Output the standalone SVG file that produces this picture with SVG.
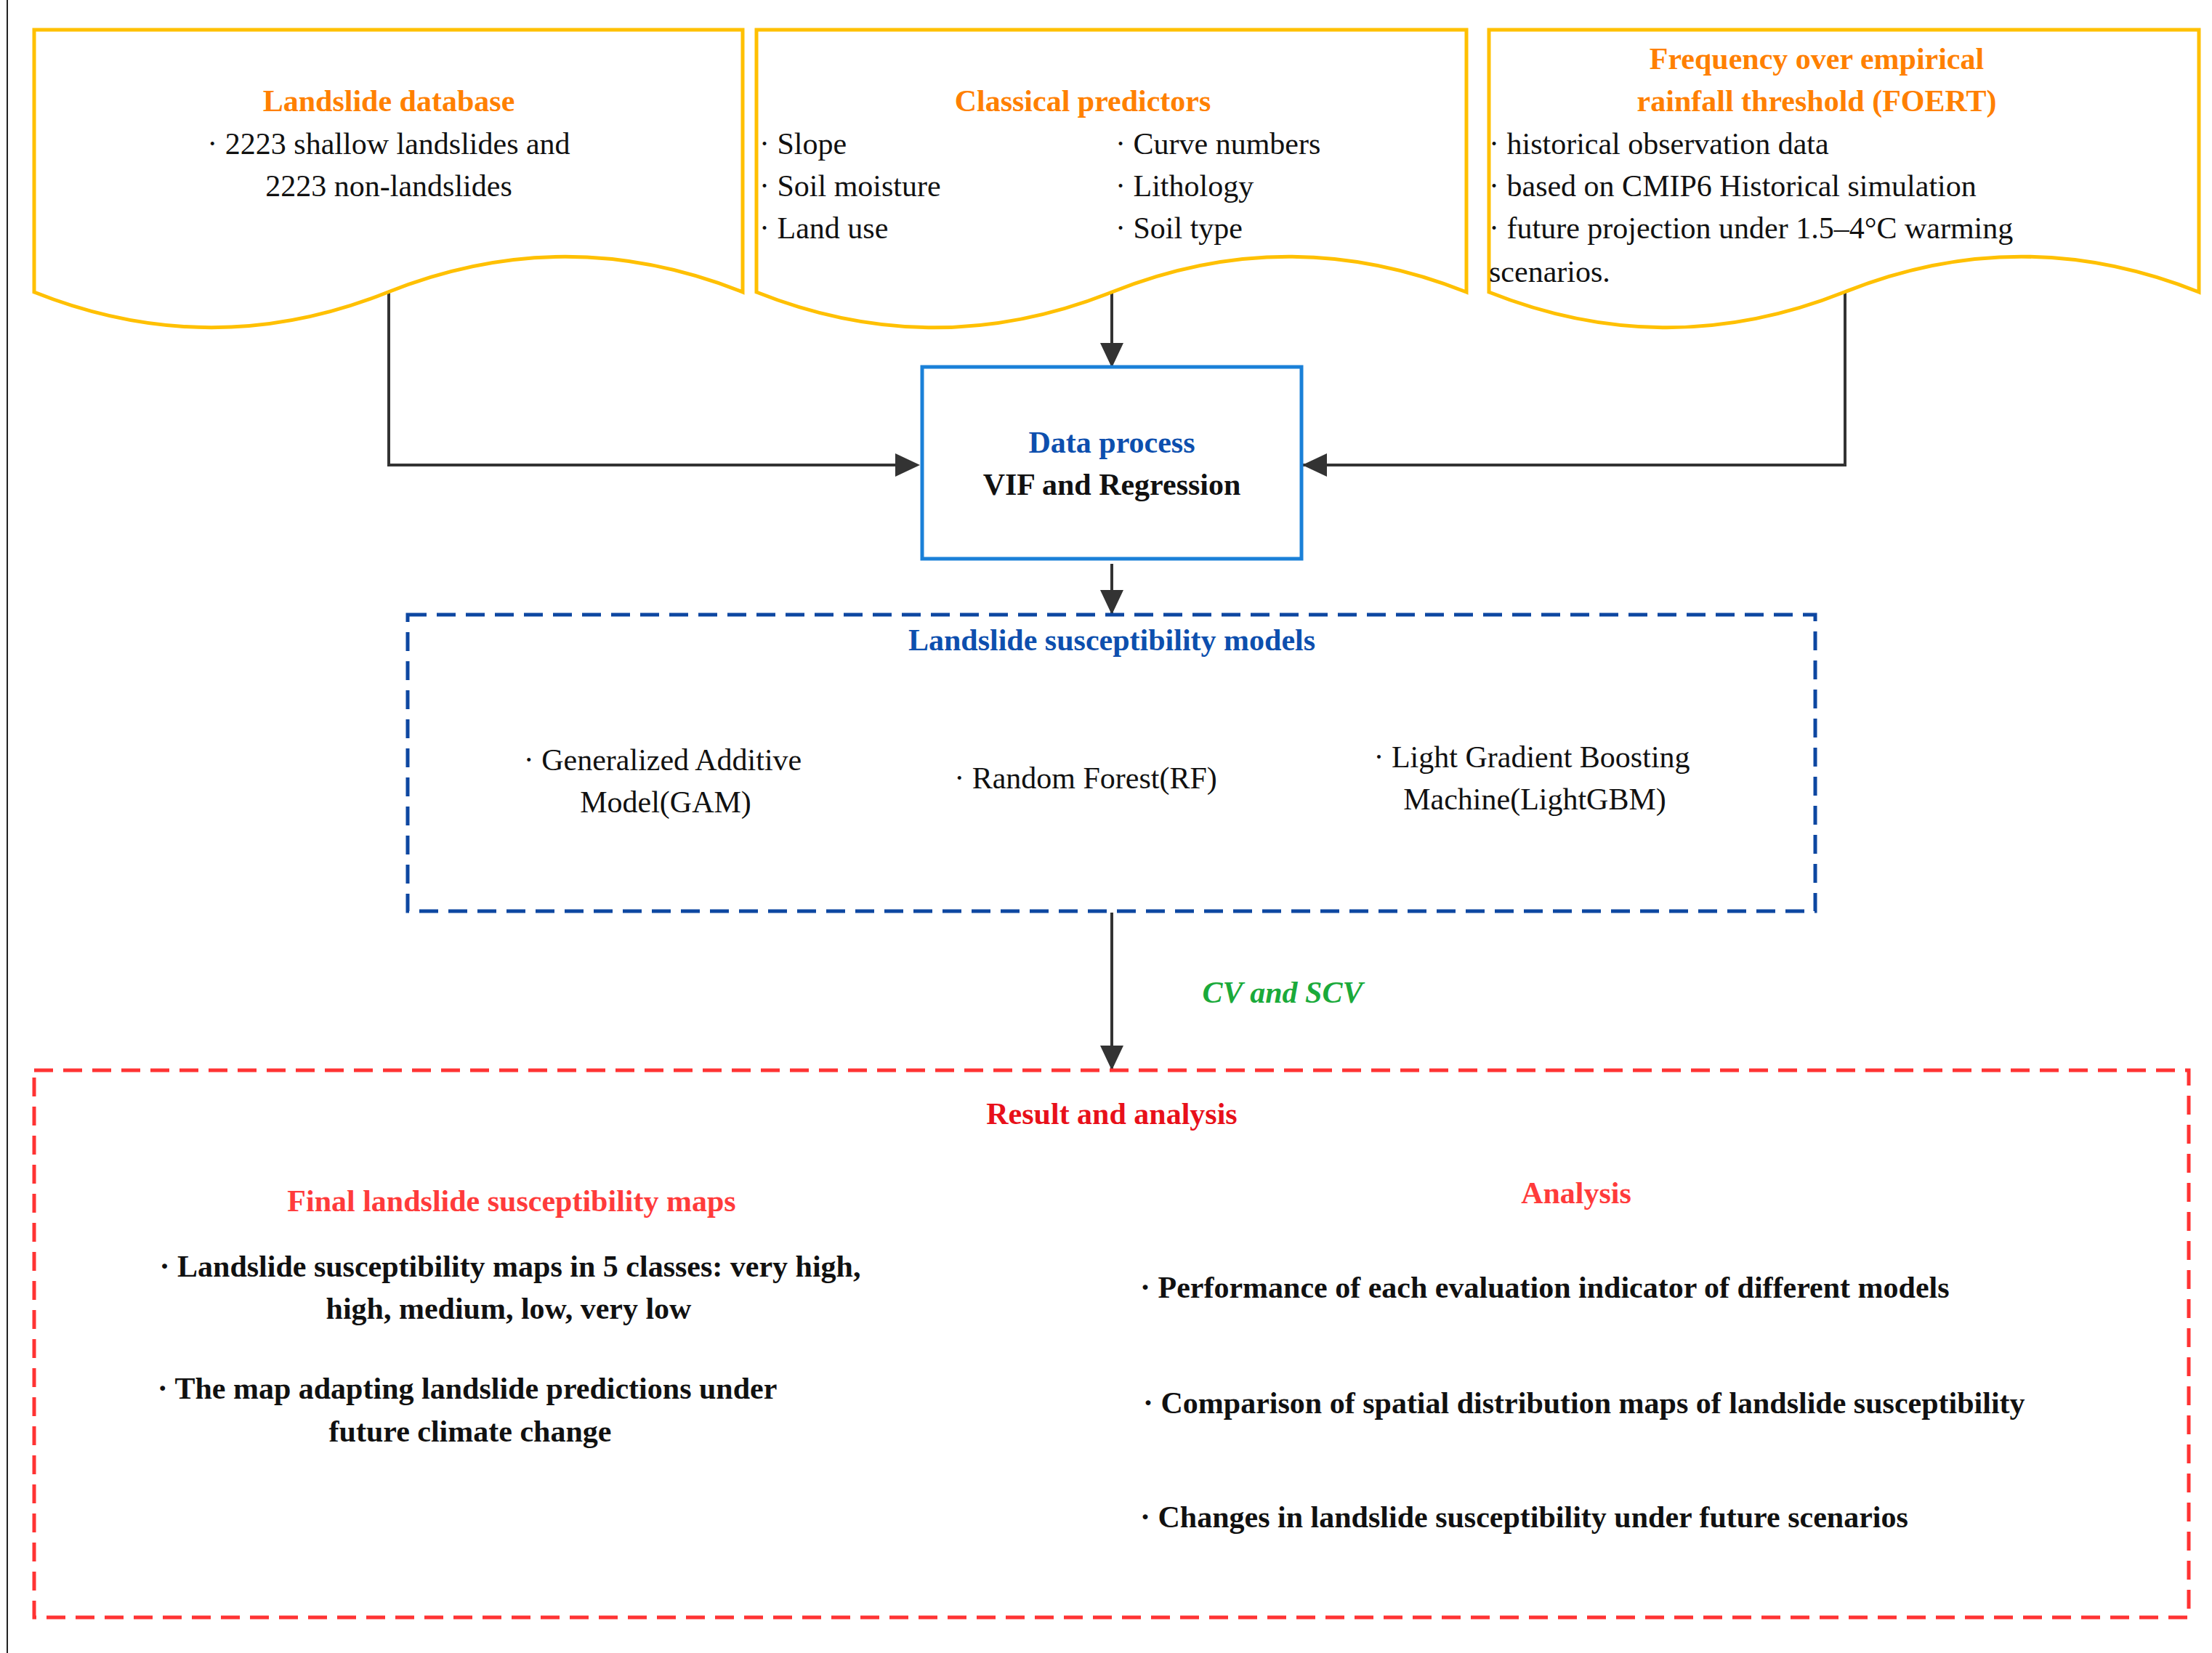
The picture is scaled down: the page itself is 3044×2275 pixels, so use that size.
<svg xmlns="http://www.w3.org/2000/svg" width="3044" height="2275" viewBox="0 0 3044 2275">
<style>
text{font-family:"Liberation Serif","Times New Roman",serif;font-size:42px;fill:#111}
.b{font-weight:bold}
.t{font-weight:bold;fill:#ff8000}
.c{text-anchor:middle}
.doc{fill:#fff;stroke:#ffc000;stroke-width:5}
.ln{fill:none;stroke:#333;stroke-width:4}
</style>
<defs>
<marker id="ah" markerWidth="10" markerHeight="10" refX="9" refY="5" orient="auto" markerUnits="userSpaceOnUse" viewBox="0 0 10 10"><path d="M0,0 L10,5 L0,10 z" fill="#333"/></marker>
</defs>
<rect width="3044" height="2275" fill="#fff"/>
<line x1="10" y1="0" x2="10" y2="2275" stroke="#222" stroke-width="2"/>
<g id="connectors">
<path class="ln" d="M535,402 V640 H1262" marker-end="url(#ah)" style="marker-end:url(#ah)"/>
<path class="ln" d="M1530,402 V506"/>
<path class="ln" d="M2539,402 V640 H1792"/>
<path class="ln" d="M1530,776 V844"/>
<path class="ln" d="M1530,1256 V1471"/>
<path d="M1232,624 L1266,640 L1232,656 z M1792,640 L1826,624 L1826,656 z M1514,472 L1530,506 L1546,472 z M1514,812 L1530,846 L1546,812 z M1514,1439 L1530,1473 L1546,1439 z" fill="#333"/>
</g>
<g id="landslide-database">
<path class="doc" d="M47,41 H1022 V402 C859,467 697,467 535,402 C372,337 210,337 47,402 Z" transform="translate(1069,0) scale(-1,1)"/>
<text class="t c" x="535" y="153">Landslide database</text>
<text class="c" x="535" y="212">· 2223 shallow landslides and</text>
<text class="c" x="535" y="270">2223 non-landslides</text>
</g>
<g id="classical-predictors">
<path class="doc" d="M1041,41 H2018 V402 C1855,337 1692,337 1530,402 C1367,467 1204,467 1041,402 Z"/>
<text class="t c" x="1490" y="153">Classical predictors</text>
<text x="1045" y="212">· Slope</text>
<text x="1045" y="270">· Soil moisture</text>
<text x="1045" y="328">· Land use</text>
<text x="1535" y="212">· Curve numbers</text>
<text x="1535" y="270">· Lithology</text>
<text x="1535" y="328">· Soil type</text>
</g>
<g id="foert">
<path class="doc" d="M2049,41 H3026 V402 C2863,337 2700,337 2538,402 C2375,467 2212,467 2049,402 Z"/>
<text class="t c" x="2500" y="95">Frequency over empirical</text>
<text class="t c" x="2500" y="153">rainfall threshold (FOERT)</text>
<text x="2049" y="212">· historical observation data</text>
<text x="2049" y="270">· based on CMIP6 Historical simulation</text>
<text x="2049" y="328">· future projection under 1.5–4°C warming</text>
<text x="2049" y="388">scenarios.</text>
</g>
<g id="data-process">
<rect x="1269" y="505" width="522" height="264" fill="#fff" stroke="#1a80d8" stroke-width="5"/>
<text class="b c" x="1530" y="623" style="fill:#0d4fae">Data process</text>
<text class="b c" x="1530" y="681">VIF and Regression</text>
</g>
<g id="models">
<rect x="561" y="846" width="1937" height="408" fill="none" stroke="#0d47a1" stroke-width="5" stroke-dasharray="26,14"/>
<text class="b c" x="1530" y="895" style="fill:#0d4fae">Landslide susceptibility models</text>
<text class="c" x="912" y="1060">· Generalized Additive</text>
<text class="c" x="916" y="1118">Model(GAM)</text>
<text class="c" x="1494" y="1085">· Random Forest(RF)</text>
<text class="c" x="2108" y="1056">· Light Gradient Boosting</text>
<text class="c" x="2112" y="1114">Machine(LightGBM)</text>
</g>
<text class="b c" x="1765" y="1380" style="fill:#1aaa3a;font-style:italic">CV and SCV</text>
<g id="results">
<rect x="47" y="1473" width="2965" height="753" fill="none" stroke="#ff3333" stroke-width="5" stroke-dasharray="26,14"/>
<text class="b c" x="1530" y="1547" style="fill:#e8101a">Result and analysis</text>
<text class="b c" x="704" y="1667" style="fill:#ff3b3b">Final landslide susceptibility maps</text>
<text class="b c" x="702" y="1757">· Landslide susceptibility maps in 5 classes: very high,</text>
<text class="b c" x="700" y="1815">high, medium, low, very low</text>
<text class="b c" x="643" y="1925">· The map adapting landslide predictions under</text>
<text class="b c" x="647" y="1984">future climate change</text>
<text class="b c" x="2169" y="1656" style="fill:#ff3b3b">Analysis</text>
<text class="b" x="1569" y="1786">· Performance of each evaluation indicator of different models</text>
<text class="b" x="1573" y="1945">· Comparison of spatial distribution maps of landslide susceptibility</text>
<text class="b" x="1569" y="2102">· Changes in landslide susceptibility under future scenarios</text>
</g>
</svg>
